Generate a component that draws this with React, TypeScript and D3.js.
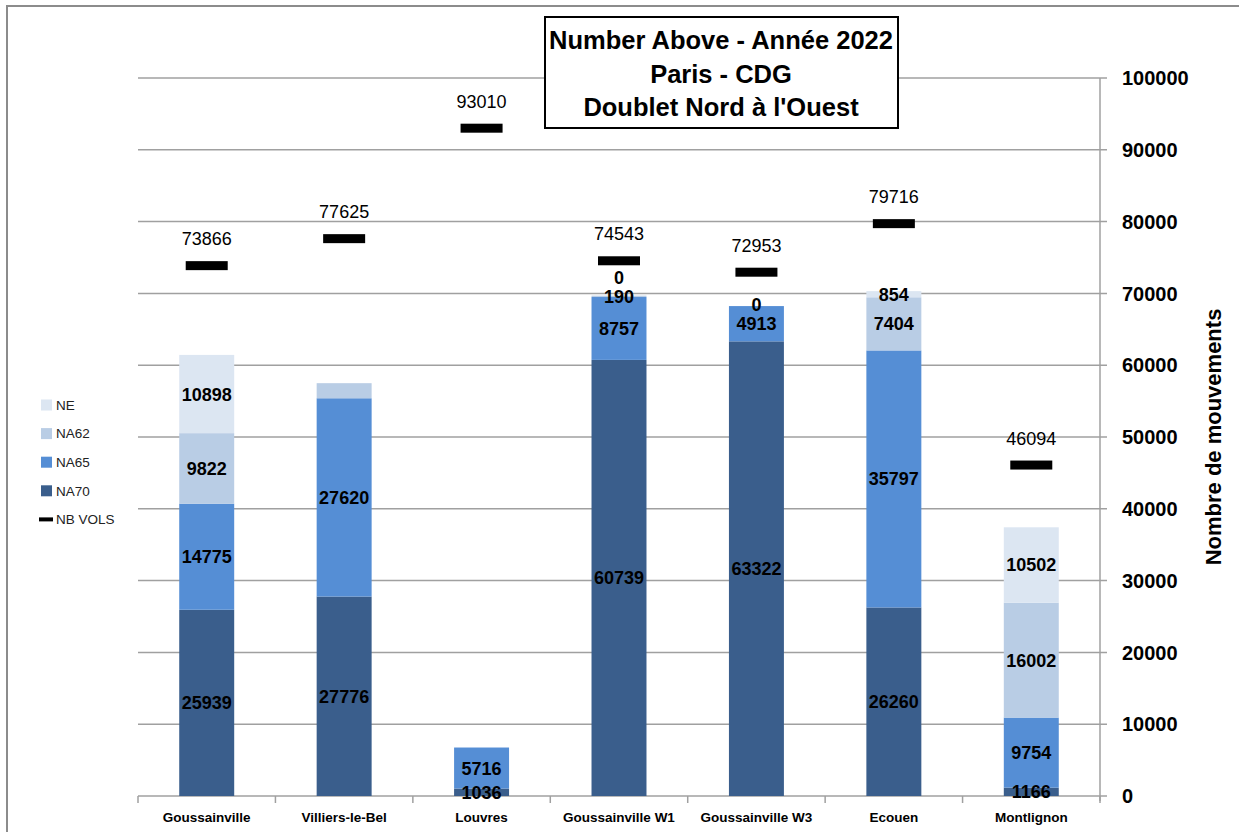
import React from 'react';
import * as d3 from 'd3';

const categories = ['Goussainville', 'Villiers-le-Bel', 'Louvres', 'Goussainville W1', 'Goussainville W3', 'Ecouen', 'Montlignon'];
const na70 = [25939, 27776, 1036, 60739, 63322, 26260, 1166];
const na65 = [14775, 27620, 5716, 8757, 4913, 35797, 9754];
const na62: (number | null)[] = [9822, 2100, null, 190, 0, 7404, 16002];
const ne: (number | null)[] = [10898, null, null, 0, null, 854, 10502];
const nbVols = [73866, 77625, 93010, 74543, 72953, 79716, 46094];
// labels that the original chart does not print
const hiddenLabels = ['Villiers-le-Bel|NA62'];
const yTicks = [0, 10000, 20000, 30000, 40000, 50000, 60000, 70000, 80000, 90000, 100000];
const titleLines = ['Number Above - Année 2022', 'Paris - CDG', "Doublet Nord à l'Ouest"];

const series = [
  { key: 'NA70', values: na70, color: '#3A5E8C' },
  { key: 'NA65', values: na65, color: '#558ED5' },
  { key: 'NA62', values: na62, color: '#B9CDE5' },
  { key: 'NE', values: ne, color: '#DCE6F2' },
];

const font = "'Liberation Sans', Arial, sans-serif";

const App: React.FC = () => {
  const width = 1239;
  const height = 832;
  const left = 138;
  const right = 1100;

  const x = d3.scaleBand<string>()
    .domain(categories)
    .range([left, right])
    .paddingInner(0.6)
    .paddingOuter(0.3);

  const y = d3.scaleLinear()
    .domain([0, 100000])
    .range([796, 78]);

  const bw = x.bandwidth();
  const step = x.step();

  // stacked segments + labels with simple overlap nudging
  const bars: JSX.Element[] = [];
  const labels: JSX.Element[] = [];
  categories.forEach((cat, i) => {
    let base = 0;
    let prevLabelY = Infinity;
    const x0 = x(cat) || 0;
    series.forEach(s => {
      const v = s.values[i];
      if (v === null || v === undefined) return;
      const y0 = y(base);
      const y1 = y(base + v);
      if (v > 0) {
        bars.push(
          <rect key={`${cat}-${s.key}`} x={x0} y={y1} width={bw} height={y0 - y1} fill={s.color} />
        );
      }
      if (!hiddenLabels.includes(`${cat}|${s.key}`)) {
        let ly = (y0 + y1) / 2;
        if (ly > prevLabelY - 19) ly = prevLabelY - 19;
        prevLabelY = ly;
        labels.push(
          <text key={`l-${cat}-${s.key}`} x={x0 + bw / 2} y={ly} dy="0.36em" textAnchor="middle"
            fontSize={18} fontWeight="bold" fill="#000">{v}</text>
        );
      }
      base += v;
    });
  });

  const legendItems = [...series].reverse();

  return (
    <div style={{ position: 'absolute', left: 0, top: 0 }}>
      <svg width={width} height={height} style={{ display: 'block', fontFamily: font, background: '#fff' }}>
        <rect x={7} y={6} width={1260} height={860} fill="#fff" stroke="#8c8c8c" strokeWidth={2} />

        {/* gridlines + right axis ticks */}
        {yTicks.map(t => (
          <g key={t}>
            <line x1={left} x2={right + 7} y1={y(t)} y2={y(t)} stroke="#a0a0a0" strokeWidth={1.5} />
            <text x={1122} y={y(t)} dy="0.36em" fontSize={20} fontWeight="bold" fill="#000">{t}</text>
          </g>
        ))}
        <line x1={right} x2={right} y1={y(100000)} y2={y(0) + 5} stroke="#a0a0a0" strokeWidth={1.5} />

        {/* category boundary ticks */}
        {d3.range(categories.length + 1).map(k => (
          <line key={k} x1={left + k * step} x2={left + k * step} y1={y(0)} y2={y(0) + 7} stroke="#a0a0a0" strokeWidth={1.5} />
        ))}

        {bars}

        {/* NB VOLS markers */}
        {categories.map((cat, i) => {
          const cx = (x(cat) || 0) + bw / 2;
          const yy = y(nbVols[i]);
          return (
            <g key={`nb-${cat}`}>
              <rect x={cx - 21} y={yy - 4.5} width={42} height={9} fill="#000" />
              <text x={cx} y={yy - 27} dy="0.36em" textAnchor="middle" fontSize={18} fill="#000">{nbVols[i]}</text>
            </g>
          );
        })}

        {labels}

        {/* category labels */}
        {categories.map(cat => (
          <text key={`c-${cat}`} x={(x(cat) || 0) + bw / 2} y={817} dy="0.36em" textAnchor="middle"
            fontSize={13.5} fontWeight="bold" fill="#000">{cat}</text>
        ))}

        {/* right axis title */}
        <text transform="translate(1213,437) rotate(-90)" textAnchor="middle" dy="0.36em"
          fontSize={22} fontWeight="bold" fill="#000">Nombre de mouvements</text>

        {/* title box */}
        <rect x={545} y={17} width={353} height={111} fill="#fff" stroke="#000" strokeWidth={2} />
        {titleLines.map((t, k) => (
          <text key={t} x={721} y={40 + k * 33.5} dy="0.36em" textAnchor="middle"
            fontSize={25.5} fontWeight="bold" fill="#000">{t}</text>
        ))}

        {/* legend */}
        {legendItems.map((s, k) => (
          <g key={s.key} transform={`translate(41,${405 + k * 28.6})`}>
            <rect x={0} y={-5.5} width={11} height={11} fill={s.color} />
            <text x={15} y={0} dy="0.36em" fontSize={13.5} fill="#222">{s.key}</text>
          </g>
        ))}
        <g transform={`translate(41,${405 + 4 * 28.6})`}>
          <rect x={-2} y={-2} width={14} height={4} fill="#000" />
          <text x={15} y={0} dy="0.36em" fontSize={13.5} fill="#222">NB VOLS</text>
        </g>
      </svg>
    </div>
  );
};

export default App;
